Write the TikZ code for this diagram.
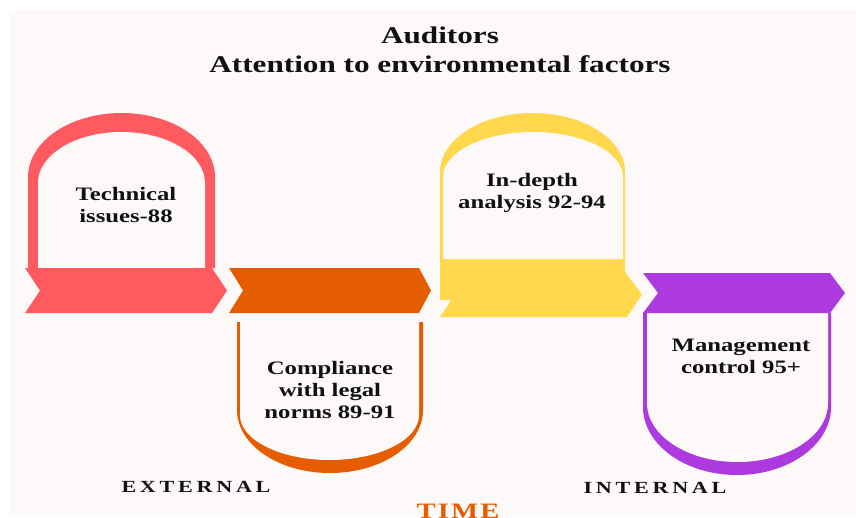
\documentclass[tikz,border=0pt]{standalone}
\usepackage{fontspec}
\setmainfont{Liberation Serif}[FakeStretch=1.3]
\newfontfamily\spacedfont{Liberation Serif}[FakeStretch=1.3,LetterSpace=22]
\newfontfamily\timefont{Liberation Serif}[FakeStretch=1.3,LetterSpace=10]

\definecolor{pagebg}{RGB}{252,249,248}
\definecolor{stagered}{RGB}{255,90,95}
\definecolor{stageorange}{RGB}{230,92,0}
\definecolor{stageyellow}{RGB}{255,216,77}
\definecolor{stagepurple}{RGB}{172,58,222}
\definecolor{inktext}{RGB}{17,17,17}

% multi-line nodes are placed by the baseline of their last line
\tikzset{
  titletext/.style={align=center, anchor=base, text=inktext,
    font=\fontsize{24}{29}\selectfont\bfseries, inner sep=0pt},
  stagetext/.style={align=center, anchor=base, text=inktext,
    font=\fontsize{19}{22}\selectfont\bfseries, inner sep=0pt},
  sidetext/.style={anchor=base, text=inktext,
    font=\fontsize{17}{20}\selectfont\spacedfont\bfseries, inner sep=0pt},
  timetext/.style={anchor=base, text=stageorange,
    font=\fontsize{22}{26}\selectfont\timefont\bfseries, inner sep=0pt},
  hollow/.style={fill=pagebg}
}

\begin{document}
\begin{tikzpicture}[x=1pt,y=-1pt]
  \useasboundingbox (0,0) rectangle (856,517);
  \fill[white] (0,0) rectangle (856,517);
  \fill[pagebg] (9,10) rectangle (856,517);

  % --- stage 1: red arch above the first chevron
  \fill[stagered] (28,268) -- (28,177)
    arc[start angle=180, end angle=360, x radius=93.5, y radius=64] -- (215,268) -- cycle;
  \fill[hollow] (38,268) -- (38,183)
    arc[start angle=180, end angle=360, x radius=83.5, y radius=51] -- (205,268) -- cycle;

  % --- stage 2: orange shield below the second chevron
  \fill[stageorange] (237,322) -- (237,410)
    arc[start angle=180, end angle=0, x radius=93, y radius=63] -- (423,322) -- cycle;
  \fill[hollow] (240,322) -- (240,415)
    arc[start angle=180, end angle=0, x radius=89.5, y radius=45] -- (419,322) -- cycle;

  % --- stage 3: yellow arch merged with its chevron
  \fill[stageyellow] (440,300) -- (440,172)
    arc[start angle=180, end angle=360, x radius=92.5, y radius=59] -- (625,300) -- cycle;
  \fill[hollow] (443,259) -- (443,177)
    arc[start angle=180, end angle=360, x radius=90, y radius=45] -- (623,259) -- cycle;

  % --- stage 4: purple shield below the last chevron
  \fill[stagepurple] (643,313) -- (643,407)
    arc[start angle=180, end angle=0, x radius=94, y radius=68] -- (831,313) -- cycle;
  \fill[hollow] (647,313) -- (647,403)
    arc[start angle=180, end angle=0, x radius=90.5, y radius=59] -- (828,313) -- cycle;

  % --- timeline chevrons
  \fill[stagered] (25,268) -- (212,268) -- (227,290.5) -- (212,313) -- (25,313) -- (40,290.5) -- cycle;
  \fill[stageorange] (229,268) -- (419,268) -- (431,290.5) -- (419,313) -- (229,313) -- (243,290.5) -- cycle;
  \fill[stageyellow] (440,272) -- (625,272) -- (642,294.5) -- (627,317) -- (440,317) -- (455,294.5) -- cycle;
  \fill[stagepurple] (643,273) -- (830,273) -- (845,293) -- (830,313) -- (643,313) -- (658,293) -- cycle;

  % --- texts
  \node[titletext] (title) at (440,72) {Auditors\\Attention to environmental factors};
  \node[stagetext] (tech) at (126,222) {Technical\\issues-88};
  \node[stagetext] (comp) at (330,418) {Compliance\\with legal\\norms 89-91};
  \node[stagetext] (depth) at (532,208) {In-depth\\analysis 92-94};
  \node[stagetext] (mgmt) at (741,373) {Management\\control 95+};
  \node[sidetext] (ext) at (196,492) {EXTERNAL};
  \node[sidetext] (int) at (655,493) {INTERNAL};
  \node[timetext] (time) at (458,518) {TIME};
\end{tikzpicture}
\end{document}
